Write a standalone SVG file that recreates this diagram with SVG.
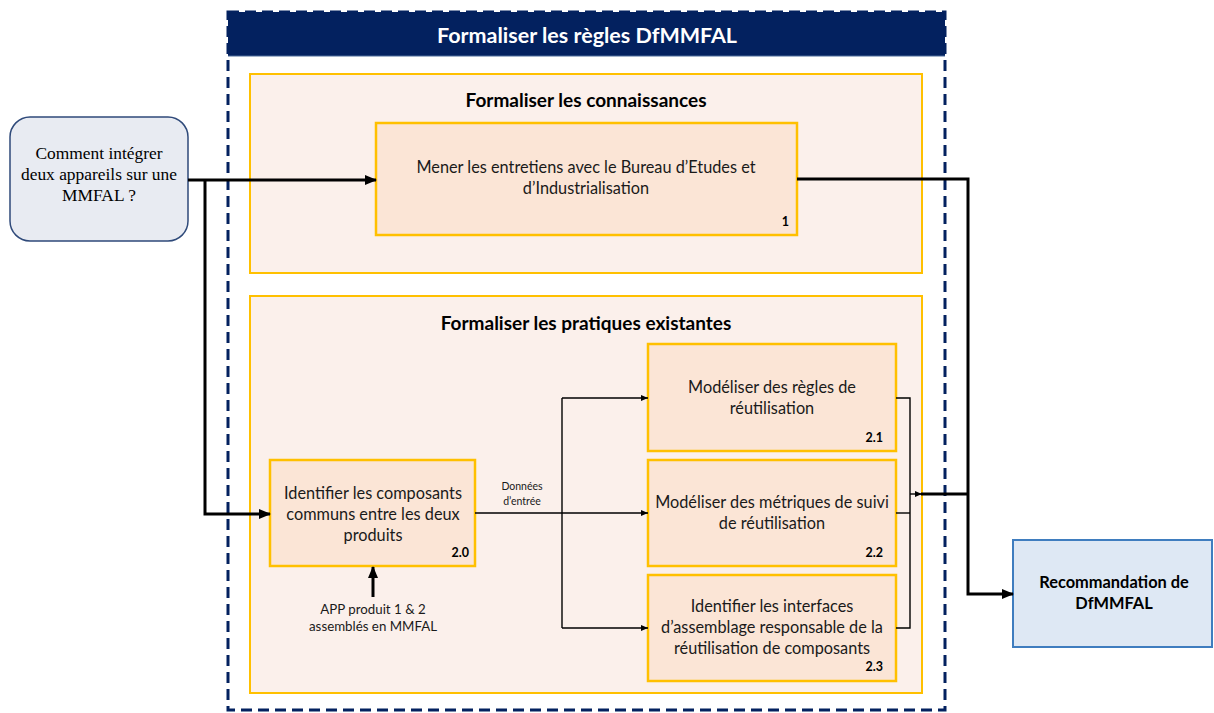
<svg xmlns="http://www.w3.org/2000/svg" width="1214" height="713" viewBox="0 0 1214 713">
<style>
.panel{fill:#FBF0EB;stroke:#FFC000;stroke-width:2}
.box{fill:#FBE5D6;stroke:#FFC000;stroke-width:2.5}
.t{font-family:Lato,"Liberation Sans",sans-serif;font-size:16.3px;fill:#1a1a1a;text-anchor:middle}
.b{font-family:Lato,"Liberation Sans",sans-serif;font-weight:bold;fill:#000;text-anchor:middle}
.n{font-family:Lato,"Liberation Sans",sans-serif;font-weight:bold;font-size:12.5px;fill:#000;text-anchor:end}
.s{font-family:Lato,"Liberation Sans",sans-serif;fill:#1a1a1a;text-anchor:middle}
.q{font-family:"Liberation Serif","Times New Roman",serif;font-size:17.4px;fill:#000;text-anchor:middle}
.thick{fill:none;stroke:#000;stroke-width:3}
.thin{fill:none;stroke:#000;stroke-width:1.4}
</style>
<defs>
<marker id="ah" markerWidth="12" markerHeight="10" refX="11" refY="5" orient="auto" markerUnits="userSpaceOnUse">
<path d="M0,0 L12,5 L0,10 z" fill="#000"/>
</marker>
<marker id="as" markerWidth="7" markerHeight="6" refX="7" refY="3" orient="auto" markerUnits="userSpaceOnUse">
<path d="M0,0 L7,3 L0,6 z" fill="#000"/>
</marker>
</defs>
<rect width="1214" height="713" fill="#fff"/>

<g id="outer">
<rect x="228" y="12" width="717" height="44" fill="#03215F"/>
<line x1="228" y1="56" x2="945" y2="56" stroke="#4a6a9a" stroke-width="1"/>
<rect x="228" y="12" width="717" height="698" fill="none" stroke="#03215F" stroke-width="3" stroke-dasharray="11 6"/>
<text class="b" x="587" y="43" font-size="21.5" style="fill:#fff">Formaliser les règles DfMMFAL</text>
</g>

<g id="panel1">
<rect class="panel" x="250" y="74" width="672" height="199"/>
<text class="b" x="586" y="107" font-size="19">Formaliser les connaissances</text>
</g>

<g id="panel2">
<rect class="panel" x="250" y="296" width="672" height="397"/>
<text class="b" x="586" y="330" font-size="19">Formaliser les pratiques existantes</text>
</g>

<g id="question">
<rect x="10" y="117" width="178" height="124" rx="20" ry="20" fill="#E8EBF2" stroke="#2F4A7A" stroke-width="1.5"/>
<text class="q"><tspan x="99" y="159">Comment intégrer</tspan><tspan x="99" y="180">deux appareils sur une</tspan><tspan x="99" y="201">MMFAL ?</tspan></text>
</g>

<g id="node1">
<rect class="box" x="376" y="123" width="421" height="112"/>
<text class="t"><tspan x="586" y="173">Mener les entretiens avec le Bureau d’Etudes et</tspan><tspan x="586" y="194">d’Industrialisation</tspan></text>
<text class="n" x="789" y="226">1</text>
</g>

<g id="node20">
<rect class="box" x="270" y="460" width="205" height="106"/>
<text class="t"><tspan x="373" y="499">Identifier les composants</tspan><tspan x="373" y="520">communs entre les deux</tspan><tspan x="373" y="541">produits</tspan></text>
<text class="n" x="469" y="557">2.0</text>
</g>

<g id="node21">
<rect class="box" x="648" y="344" width="248" height="107"/>
<text class="t"><tspan x="772" y="393">Modéliser des règles de</tspan><tspan x="772" y="414">réutilisation</tspan></text>
<text class="n" x="883" y="442">2.1</text>
</g>

<g id="node22">
<rect class="box" x="648" y="460" width="248" height="106"/>
<text class="t"><tspan x="772" y="508">Modéliser des métriques de suivi</tspan><tspan x="772" y="529">de réutilisation</tspan></text>
<text class="n" x="883" y="557">2.2</text>
</g>

<g id="node23">
<rect class="box" x="648" y="575" width="248" height="106"/>
<text class="t"><tspan x="772" y="612">Identifier les interfaces</tspan><tspan x="772" y="633">d’assemblage responsable de la</tspan><tspan x="772" y="654">réutilisation de composants</tspan></text>
<text class="n" x="883" y="671">2.3</text>
</g>

<g id="reco">
<rect x="1013" y="540" width="199" height="107" fill="#DEE8F4" stroke="#3F7DBF" stroke-width="2"/>
<text class="b" font-size="16.4"><tspan x="1114" y="588">Recommandation de</tspan><tspan x="1114" y="609">DfMMFAL</tspan></text>
</g>

<g id="labels">
<text class="s" font-size="13.3"><tspan x="373" y="614">APP produit 1 &amp; 2</tspan><tspan x="373" y="631">assemblés en MMFAL</tspan></text>
<text class="s" font-size="10.5"><tspan x="522" y="490">Données</tspan><tspan x="522" y="505">d’entrée</tspan></text>
</g>

<g id="connectors">
<path class="thick" d="M188,180 H376" marker-end="url(#ah)"/>
<path class="thick" d="M205,180 V514 H270" marker-end="url(#ah)"/>
<path class="thick" d="M797,179 H968 V594 H1013" marker-end="url(#ah)"/>
<path class="thick" d="M921,494 H968"/>
<path class="thick" d="M373,597 V567" marker-end="url(#ah)"/>
<path class="thin" d="M475,513 H562"/>
<path class="thin" d="M562,398 V628"/>
<path class="thin" d="M562,398 H648" marker-end="url(#as)"/>
<path class="thin" d="M562,513 H648" marker-end="url(#as)"/>
<path class="thin" d="M562,628 H648" marker-end="url(#as)"/>
<path class="thin" d="M896,398 H910 V628 H896"/>
<path class="thin" d="M896,513 H910"/>
<path class="thin" d="M910,494 H922" marker-end="url(#as)"/>
</g>
</svg>
